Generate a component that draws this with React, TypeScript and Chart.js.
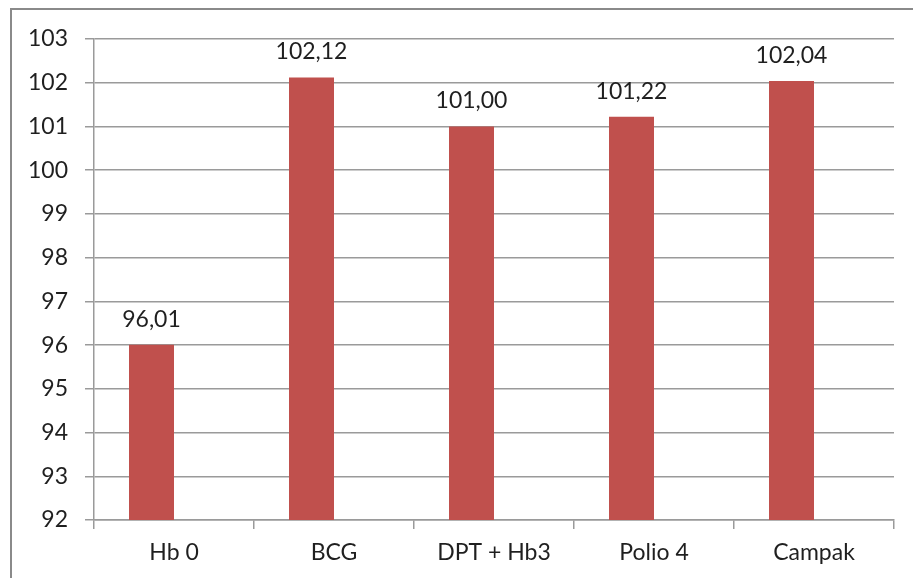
import React, { useEffect, useRef } from "react";
import { Chart, registerables } from "chart.js";

Chart.register(...registerables);

const categories = ["Hb 0", "BCG", "DPT + Hb3", "Polio 4", "Campak"];
const values = [96.01, 102.12, 101.0, 101.22, 102.04];
const emptySeries = [null, null, null, null, null];
const yMin = 92;
const yMax = 103;

const FONT = "Lato, 'Noto Sans', sans-serif";
const FONT_SIZE = 23;

const valueLabelPlugin = {
  id: "valueLabels",
  afterDatasetsDraw(chart: any) {
    const ctx = chart.ctx;
    const meta = chart.getDatasetMeta(0);
    ctx.save();
    ctx.font = `${FONT_SIZE}px ${FONT}`;
    ctx.fillStyle = "#1f1f1f";
    ctx.textAlign = "center";
    ctx.textBaseline = "alphabetic";
    meta.data.forEach((el: any, i: number) => {
      const v = values[i];
      const txt = v.toFixed(2).replace(".", ",");
      ctx.fillText(txt, el.x, el.y - 18);
    });
    ctx.restore();
  },
};

export default function App() {
  const ref = useRef<HTMLCanvasElement | null>(null);
  useEffect(() => {
    if (!ref.current) return;
    const chart = new Chart(ref.current, {
      type: "bar",
      data: {
        labels: categories,
        datasets: [
          {
            data: values,
            backgroundColor: "#C0504D",
            categoryPercentage: 0.5625,
            barPercentage: 1,
          },
          {
            data: emptySeries as any,
            backgroundColor: "#4F81BD",
            categoryPercentage: 0.5625,
            barPercentage: 1,
          },
        ],
      },
      options: {
        animation: false,
        responsive: false,
        devicePixelRatio: 1,
        layout: { padding: { top: 39, right: 19, left: 0, bottom: 0 } },
        plugins: {
          legend: { display: false },
          tooltip: { enabled: false },
        },
        scales: {
          x: {
            grid: {
              offset: true,
              drawOnChartArea: false,
              drawTicks: true,
              tickLength: 9,
              color: "#9a9a9a",
              lineWidth: 1.5,
            },
            border: { color: "#9a9a9a", width: 1.5 },
            ticks: {
              color: "#1f1f1f",
              font: { family: FONT, size: FONT_SIZE },
              padding: 10,
              maxRotation: 0,
            },
            afterFit: (scale: any) => {
              scale.height = 58;
            },
          },
          y: {
            min: yMin,
            max: yMax,
            ticks: {
              stepSize: 1,
              color: "#1f1f1f",
              font: { family: FONT, size: FONT_SIZE },
              padding: 17,
            },
            grid: {
              color: "#9a9a9a",
              lineWidth: 1.5,
              tickLength: 9,
            },
            border: { color: "#9a9a9a", width: 1.5 },
            afterFit: (scale: any) => {
              scale.width = 94;
            },
          },
        },
      },
      plugins: [valueLabelPlugin],
    });
    return () => chart.destroy();
  }, []);

  return (
    <div style={{ position: "absolute", left: 0, top: 0, width: 913, height: 578, background: "#fff" }}>
      <canvas ref={ref} width={913} height={578} style={{ position: "absolute", left: 0, top: 0 }} />
      <div
        style={{
          position: "absolute",
          left: 10,
          top: 8,
          right: 0,
          bottom: 0,
          borderTop: "2px solid #8a8a8a",
          borderLeft: "2px solid #8a8a8a",
          pointerEvents: "none",
        }}
      />
    </div>
  );
}
